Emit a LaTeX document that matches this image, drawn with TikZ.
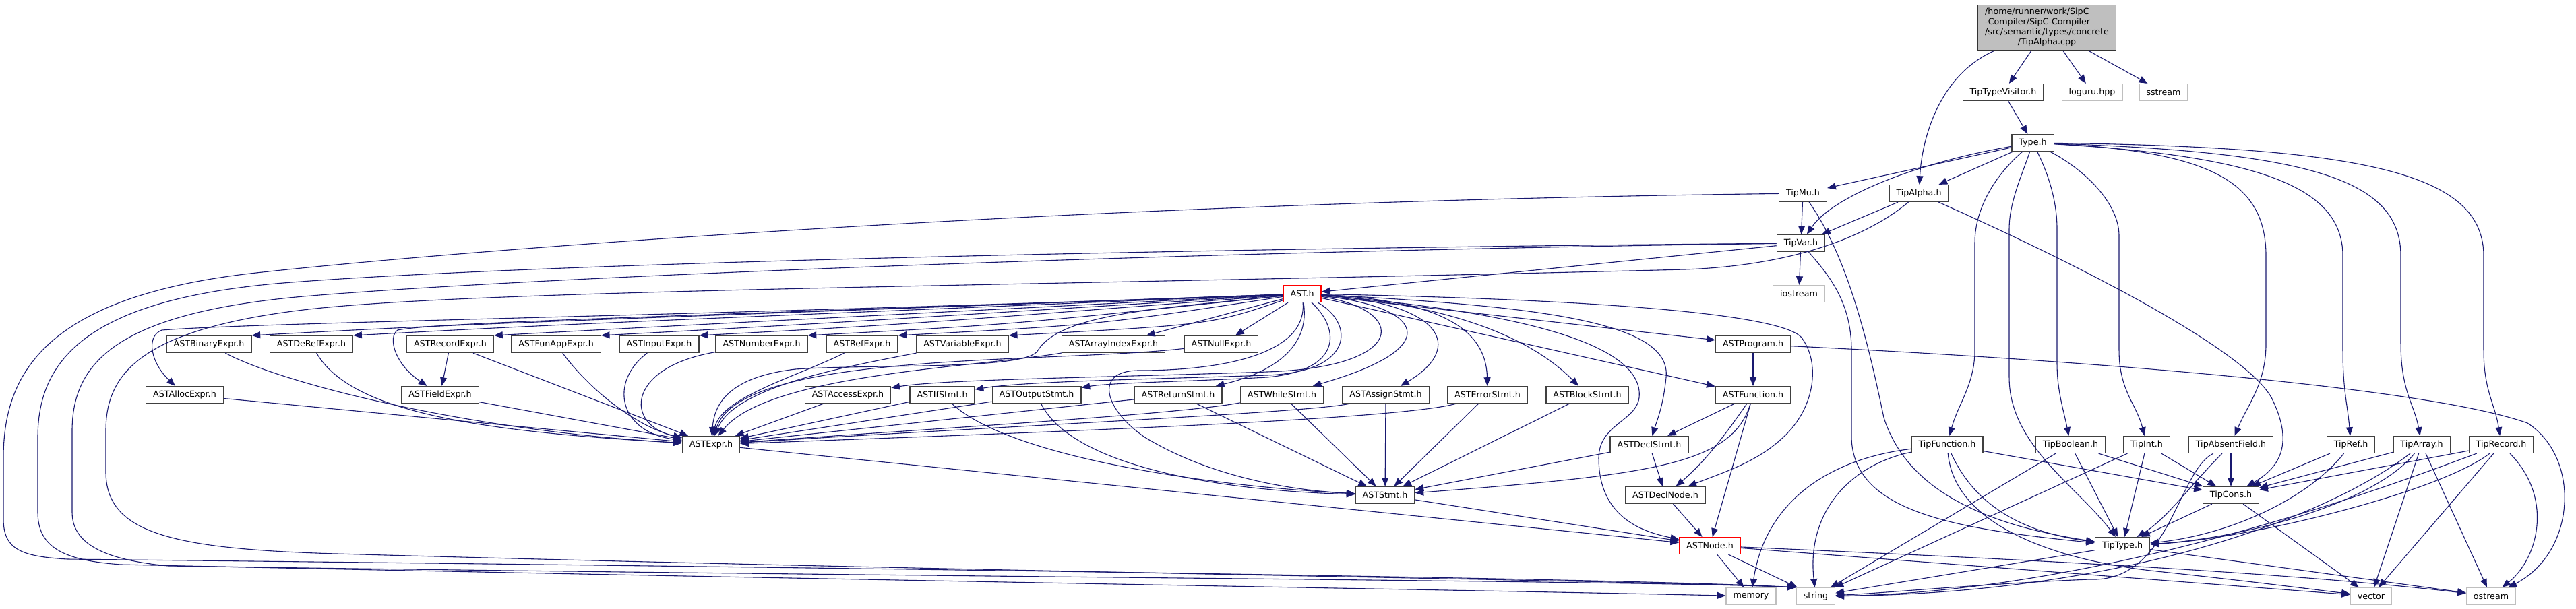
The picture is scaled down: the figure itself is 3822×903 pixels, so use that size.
\documentclass[tikz,border=0pt]{standalone}
\usepackage{fontspec}
\setmainfont{DejaVu Sans}
\usepackage{xcolor}
\usepackage{tikz}
\usetikzlibrary{arrows.meta}

\definecolor{edgeblue}{HTML}{191970}
\definecolor{boxline}{HTML}{404040}
\definecolor{sysline}{HTML}{BFBFBF}

\begin{document}
\begin{tikzpicture}[
    x=1pt, y=-1pt,
    box/.style={draw=boxline, fill=white, line width=1.2pt, minimum height=25pt, inner xsep=10.5pt, inner ysep=1pt, font=\fontsize{12.67}{14.8}\selectfont},
    sysbox/.style={box, draw=sysline},
    redbox/.style={box, draw=red},
    srcbox/.style={box, fill=sysline, draw=black!80, inner ysep=4pt},
    arr/.style={-{Triangle[length=12.7pt,width=10pt]}, color=edgeblue, line width=1.1pt},
  ]
    \path[use as bounding box, fill=white] (0,0) rectangle (3822,903);

    % nodes
    \node[srcbox] (root) at (3037,41) {\begin{tabular}{@{}l@{}}/home/runner/work/SipC\\-Compiler/SipC-Compiler\\/src/semantic/types/concrete\\\multicolumn{1}{@{}c@{}}{/TipAlpha.cpp}\end{tabular}};
    \node[box] (tipvisitor) at (2972,137) {TipTypeVisitor.h};
    \node[sysbox] (loguru) at (3104,137) {loguru.hpp};
    \node[sysbox] (sstream) at (3210,137) {sstream};
    \node[box] (type) at (3016,212) {Type.h};
    \node[box] (tipmu) at (2675,287) {TipMu.h};
    \node[box] (tipalpha) at (2847,287) {TipAlpha.h};
    \node[box] (tipvar) at (2672,361) {TipVar.h};
    \node[sysbox] (iostream) at (2669,436) {iostream};
    \node[redbox] (ast) at (1932,436) {AST.h};

    \node[box] (astbinary) at (310,511) {ASTBinaryExpr.h};
    \node[box] (astderef) at (462,511) {ASTDeRefExpr.h};
    \node[box] (astrecord) at (668,511) {ASTRecordExpr.h};
    \node[box] (astfunapp) at (825,511) {ASTFunAppExpr.h};
    \node[box] (astinput) at (978,511) {ASTInputExpr.h};
    \node[box] (astnumber) at (1130,511) {ASTNumberExpr.h};
    \node[box] (astref) at (1279,511) {ASTRefExpr.h};
    \node[box] (astvariable) at (1428,511) {ASTVariableExpr.h};
    \node[box] (astarray) at (1652,511) {ASTArrayIndexExpr.h};
    \node[box] (astnull) at (1812,511) {ASTNullExpr.h};
    \node[box] (astprogram) at (2601,511) {ASTProgram.h};

    \node[box] (astalloc) at (274,586) {ASTAllocExpr.h};
    \node[box] (astfield) at (653,586) {ASTFieldExpr.h};
    \node[box] (astaccess) at (1258,586) {ASTAccessExpr.h};
    \node[box] (astif) at (1398,586) {ASTIfStmt.h};
    \node[box] (astoutput) at (1538,586) {ASTOutputStmt.h};
    \node[box] (astreturn) at (1748,586) {ASTReturnStmt.h};
    \node[box] (astwhile) at (1902,586) {ASTWhileStmt.h};
    \node[box] (astassign) at (2056,586) {ASTAssignStmt.h};
    \node[box] (asterror) at (2207,586) {ASTErrorStmt.h};
    \node[box] (astblock) at (2355,586) {ASTBlockStmt.h};
    \node[box] (astfunction) at (2601,586) {ASTFunction.h};

    \node[box] (astexpr) at (1055,660) {ASTExpr.h};
    \node[box] (astdeclstmt) at (2447,660) {ASTDeclStmt.h};
    \node[box] (tipfunction) at (2889,660) {TipFunction.h};
    \node[box] (tipboolean) at (3072,660) {TipBoolean.h};
    \node[box] (tipint) at (3185,660) {TipInt.h};
    \node[box] (tipabsent) at (3310,660) {TipAbsentField.h};
    \node[box] (tipref) at (3488,660) {TipRef.h};
    \node[box] (tiparray) at (3593,660) {TipArray.h};
    \node[box] (tiprecord) at (3711,660) {TipRecord.h};

    \node[box] (aststmt) at (2055,735) {ASTStmt.h};
    \node[box] (astdeclnode) at (2471,735) {ASTDeclNode.h};
    \node[box] (tipcons) at (3310,735) {TipCons.h};
    \node[redbox] (astnode) at (2537,810) {ASTNode.h};
    \node[box] (tiptype) at (3149,810) {TipType.h};

    \node[sysbox] (memory) at (2598,885) {memory};
    \node[sysbox] (string) at (2694,885) {string};
    \node[sysbox] (vector) at (3518,885) {vector};
    \node[sysbox] (ostream) at (3696,885) {ostream};

    % TipAlpha.cpp
    \draw[arr] (root) .. controls (2880,110) and (2852,200) .. (tipalpha);
    \draw[arr] (root) -- (tipvisitor);
    \draw[arr] (root) -- (loguru);
    \draw[arr] (root) -- (sstream);
    \draw[arr] (tipvisitor) -- (type);

    % Type.h
    \draw[arr] (type) -- (tipmu);
    \draw[arr] (type) -- (tipalpha);
    \draw[arr] (type) .. controls (2850,240) and (2720,290) .. (tipvar);
    \draw[arr] (type) .. controls (2960,260) and (2930,310) .. (2930,360) -- (2930,520) .. controls (2930,570) and (2905,600) .. (tipfunction);
    \draw[arr] (type) .. controls (3000,260) and (2981,300) .. (2981,340) -- (2981,560) .. controls (2981,660) and (3080,720) .. (tiptype);
    \draw[arr] (type) .. controls (3040,260) and (3052,300) .. (3052,340) -- (3052,540) .. controls (3052,580) and (3062,610) .. (tipboolean);
    \draw[arr] (type) .. controls (3090,250) and (3144,300) .. (3144,350) -- (3144,520) .. controls (3144,580) and (3170,600) .. (tipint);
    \draw[arr] (type) .. controls (3280,225) and (3362,270) .. (3362,380) -- (3362,510) .. controls (3362,570) and (3335,600) .. (tipabsent);
    \draw[arr] (type) .. controls (3360,232) and (3476,280) .. (3476,380) -- (3476,520) .. controls (3476,580) and (3483,600) .. (tipref);
    \draw[arr] (type) .. controls (3440,226) and (3562,270) .. (3562,380) -- (3562,510) .. controls (3562,580) and (3582,600) .. (tiparray);
    \draw[arr] (type) .. controls (3520,218) and (3685,260) .. (3685,380) -- (3685,520) .. controls (3685,580) and (3702,600) .. (tiprecord);

    % TipMu.h, TipAlpha.h, TipVar.h
    \draw[arr] (tipmu) -- (tipvar);
    \draw[arr] (tipmu) .. controls (2740,380) and (2770,500) .. (2795,620) .. controls (2830,730) and (2950,780) .. (tiptype);
    \draw[arr] (tipmu) .. controls (1600,300) and (700,370) .. (380,405) .. controls (60,440) and (5,560) .. (5,680) -- (5,770) .. controls (5,815) and (30,826) .. (100,830) .. controls (1500,845) and (2450,860) .. (string.north west);
    \draw[arr] (tipalpha) -- (tipvar);
    \draw[arr] (tipalpha) .. controls (3100,400) and (3330,520) .. (3370,590) .. controls (3400,650) and (3390,690) .. (tipcons);
    \draw[arr] (tipalpha) .. controls (2760,360) and (2640,395) .. (2500,400) .. controls (1500,425) and (700,430) .. (450,460) .. controls (200,490) and (157,560) .. (157,640) -- (157,700) .. controls (157,790) and (250,815) .. (500,822) .. controls (1500,850) and (2450,862) .. (string.north west);
    \draw[arr] (tipvar) -- (iostream);
    \draw[arr] (tipvar) -- (ast);
    \draw[arr] (tipvar) .. controls (2715,410) and (2747,450) .. (2747,520) -- (2747,650) .. controls (2750,760) and (2900,785) .. (tiptype);
    \draw[arr] (tipvar) .. controls (1800,368) and (800,390) .. (420,420) .. controls (120,445) and (56,540) .. (56,650) -- (56,760) .. controls (56,810) and (90,832) .. (180,838) .. controls (1200,860) and (2300,878) .. (memory);
    \draw[arr] (tipvar) .. controls (1800,372) and (800,410) .. (450,440) .. controls (170,465) and (107,540) .. (107,640) -- (107,760) .. controls (107,800) and (140,830) .. (250,840) .. controls (1300,856) and (2450,862) .. (string.north west);

    % AST.h
    \foreach \dst in {astbinary,astderef,astrecord,astfunapp,astinput,astnumber,astref,astvariable}
      \draw[arr] (ast) .. controls ([xshift=300pt,yshift=16pt]\dst.north east) .. (\dst.north east);
    \draw[arr] (ast) -- (astarray);
    \draw[arr] (ast) -- (astnull);
    \draw[arr] (ast) -- (astprogram);
    \draw[arr] (ast) -- (astfunction);
    \draw[arr] (ast) .. controls (1000,470) and (400,478) .. (240,490) .. controls (215,500) and (225,540) .. (astalloc);
    \draw[arr] (ast) .. controls (1000,470) and (650,478) .. (590,490) .. controls (575,500) and (585,540) .. (astfield);
    \draw[arr] (ast) .. controls (2090,460) and (2090,545) .. (1880,552) .. controls (1650,560) and (1400,563) .. (astaccess);
    \draw[arr] (ast) .. controls (2010,480) and (2010,552) .. (1880,557) .. controls (1700,563) and (1520,566) .. (astif);
    \draw[arr] (ast) .. controls (1990,490) and (1990,550) .. (1880,560) .. controls (1750,567) and (1650,568) .. (astoutput);
    \draw[arr] (ast) .. controls (1945,520) and (1880,555) .. (astreturn);
    \draw[arr] (ast) .. controls (2110,455) and (2150,515) .. (astwhile);
    \draw[arr] (ast) .. controls (2140,450) and (2175,515) .. (astassign);
    \draw[arr] (ast) .. controls (2120,445) and (2205,480) .. (asterror);
    \draw[arr] (ast) .. controls (2150,452) and (2270,500) .. (astblock);
    \draw[arr] (ast) .. controls (2300,455) and (2480,480) .. (2472,560) .. controls (2468,600) and (2460,620) .. (astdeclstmt);
    \draw[arr] (ast) .. controls (2250,462) and (2440,510) .. (2432,590) .. controls (2428,625) and (2372,630) .. (2372,680) .. controls (2372,770) and (2440,790) .. (astnode);
    \draw[arr] (ast) .. controls (2400,445) and (2640,468) .. (2672,500) .. controls (2700,535) and (2695,600) .. (2650,645) .. controls (2610,685) and (2560,700) .. (astdeclnode);
    \draw[arr] (ast) .. controls (1720,458) and (1575,465) .. (1540,520) .. controls (1525,550) and (1300,540) .. (1180,548) .. controls (1080,560) and (1060,600) .. (astexpr);
    \draw[arr] (ast) .. controls (1940,530) and (1800,550) .. (1690,550) .. controls (1620,550) and (1640,610) .. (1700,650) .. controls (1800,710) and (1920,728) .. (aststmt);

    % expressions
    \draw[arr] (astrecord) -- (astfield);
    \draw[arr] (astalloc) -- (astexpr);
    \draw[arr] (astbinary) .. controls (420,570) and (700,640) .. (astexpr);
    \draw[arr] (astderef) .. controls (520,610) and (700,640) .. (astexpr);
    \draw[arr] (astfield) -- (astexpr);
    \draw[arr] (astrecord) -- (astexpr);
    \draw[arr] (astfunapp) .. controls (880,585) and (950,635) .. (astexpr);
    \draw[arr] (astinput) .. controls (905,565) and (915,640) .. (astexpr);
    \draw[arr] (astnumber) .. controls (930,545) and (925,630) .. (astexpr);
    \draw[arr] (astref) .. controls (1180,560) and (1070,590) .. (astexpr);
    \draw[arr] (astvariable) .. controls (1250,545) and (1090,575) .. (astexpr);
    \draw[arr] (astarray) .. controls (1450,545) and (1140,555) .. (astexpr);
    \draw[arr] (astnull) .. controls (1560,540) and (1100,520) .. (astexpr);
    \draw[arr] (astaccess) -- (astexpr);

    % statements
    \draw[arr] (astif) -- (astexpr);
    \draw[arr] (astoutput) -- (astexpr);
    \draw[arr] (astreturn) -- (astexpr);
    \draw[arr] (astwhile) .. controls (1750,615) and (1400,635) .. (astexpr);
    \draw[arr] (astassign) .. controls (1950,612) and (1500,632) .. (astexpr);
    \draw[arr] (asterror) .. controls (2080,622) and (1600,640) .. (astexpr);
    \draw[arr] (astif) .. controls (1500,680) and (1800,722) .. (aststmt);
    \draw[arr] (astoutput) .. controls (1590,690) and (1800,728) .. (aststmt);
    \draw[arr] (astreturn) -- (aststmt);
    \draw[arr] (astwhile) -- (aststmt);
    \draw[arr] (astassign) -- (aststmt);
    \draw[arr] (asterror) -- (aststmt);
    \draw[arr] (astblock) -- (aststmt);
    \draw[arr] (astdeclstmt) -- (aststmt);
    \draw[arr] (astdeclstmt) -- (astdeclnode);
    \draw[arr] (astprogram) -- (astfunction);
    \draw[arr] (astprogram) .. controls (3100,535) and (3600,575) .. (3750,628) .. controls (3830,680) and (3822,820) .. (ostream);
    \draw[arr] (astfunction) -- (astdeclstmt);
    \draw[arr] (astfunction) .. controls (2570,690) and (2450,705) .. (aststmt);
    \draw[arr] (astfunction) .. controls (2560,645) and (2530,685) .. (astdeclnode);
    \draw[arr] (astfunction) -- (astnode);
    \draw[arr] (astdeclnode) -- (astnode);
    \draw[arr] (aststmt) -- (astnode);
    \draw[arr] (astexpr) -- (astnode);
    \draw[arr] (astnode) -- (memory);
    \draw[arr] (astnode) -- (string);
    \draw[arr] (astnode) -- (vector);
    \draw[arr] (astnode) .. controls (3000,830) and (3400,850) .. (ostream);

    % Tip types
    \draw[arr] (tipfunction) .. controls (2930,750) and (3000,790) .. (tiptype);
    \draw[arr] (tipfunction) .. controls (2900,780) and (3050,832) .. (3200,848) .. controls (3350,864) and (3440,876) .. (vector);
    \draw[arr] (tipfunction) -- (tipcons);
    \draw[arr] (tipfunction) .. controls (2720,680) and (2620,740) .. (memory);
    \draw[arr] (tipfunction) .. controls (2745,690) and (2680,760) .. (string);
    \draw[arr] (tipboolean) -- (tiptype);
    \draw[arr] (tipboolean) -- (tipcons);
    \draw[arr] (tipboolean) -- (string);
    \draw[arr] (tipint) -- (tiptype);
    \draw[arr] (tipint) -- (tipcons);
    \draw[arr] (tipint) -- (string);
    \draw[arr] (tipabsent) -- (tipcons);
    \draw[arr] (tipabsent) .. controls (3250,720) and (3215,770) .. (tiptype);
    \draw[arr] (tipabsent) .. controls (3230,700) and (3220,865) .. (3100,860) .. controls (2950,866) and (2800,880) .. (string);
    \draw[arr] (tipref) -- (tipcons);
    \draw[arr] (tipref) .. controls (3420,745) and (3300,795) .. (tiptype);
    \draw[arr] (tiparray) -- (tipcons);
    \draw[arr] (tiparray) .. controls (3520,750) and (3320,800) .. (tiptype);
    \draw[arr] (tiparray) -- (vector);
    \draw[arr] (tiparray) -- (ostream);
    \draw[arr] (tiparray) .. controls (3450,770) and (3150,880) .. (string);
    \draw[arr] (tiprecord) -- (tipcons);
    \draw[arr] (tiprecord) .. controls (3620,730) and (3340,800) .. (tiptype);
    \draw[arr] (tiprecord) -- (vector);
    \draw[arr] (tiprecord) .. controls (3790,740) and (3765,830) .. (ostream);
    \draw[arr] (tiprecord) .. controls (3600,700) and (3150,878) .. (string);
    \draw[arr] (tipcons) -- (tiptype);
    \draw[arr] (tipcons) -- (vector);
    \draw[arr] (tiptype) -- (string);
    \draw[arr] (tiptype) -- (ostream);
\end{tikzpicture}
\end{document}
